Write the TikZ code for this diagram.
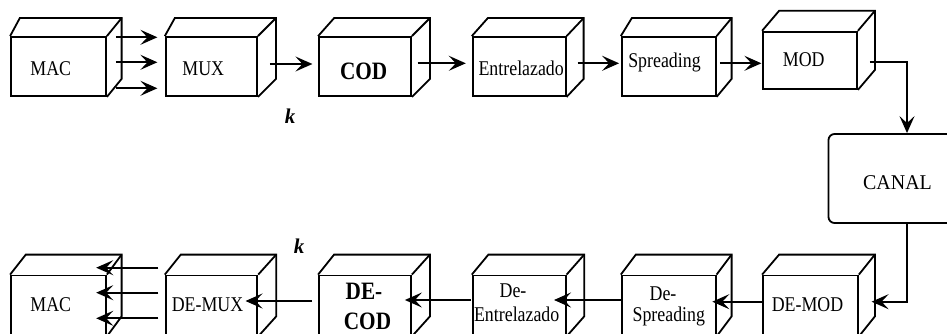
\documentclass[tikz,border=0pt]{standalone}
\usepackage{fontspec}
\setmainfont{Liberation Serif}
\newfontfamily\lblfont[FakeStretch=0.85]{Liberation Serif}
\newfontfamily\canalfont[FakeStretch=0.95]{Liberation Serif}
\usetikzlibrary{calc,arrows.meta}

\tikzset{
  edge/.style={line width=1.8pt, line join=miter},
  face/.style={edge, draw, inner sep=0pt, minimum height=59pt},
  lowface/.style={face, minimum height=60pt},
  arr/.style={edge, -{Stealth[length=17pt, width=15pt, inset=7pt]}},
  lbl/.style={inner sep=0pt, anchor=base, font=\lblfont\fontsize{21}{24}\selectfont},
  blbl/.style={inner sep=0pt, anchor=base, font=\lblfont\bfseries\fontsize{25}{28}\selectfont},
  klbl/.style={inner sep=0pt, anchor=base, font=\bfseries\itshape\fontsize{21}{24}\selectfont},
}

% top and right faces of a block: node, left depth, right depth, height of rise
\newcommand\blockfaces[4]{%
  \draw[edge] (#1.north west) -- ++(#2,-#4) -- ($(#1.north east)+(#3,-#4)$)
    -- ($(#1.south east)+(#3,-#4)$) -- (#1.south east);
  \draw[edge] (#1.north east) -- ++(#3,-#4);
}

\begin{document}
\begin{tikzpicture}[x=1pt, y=-1pt]
\useasboundingbox (0,0) rectangle (947,334);

% ---- transmitter chain ----
\node[face, minimum width=95pt]   (macA) at (58.5,66.5) {};
\node[face, minimum width=91.3pt] (mux)  at (211.35,66.5) {};
\node[face, minimum width=92pt]   (cod)  at (365,66.5) {};
\node[face, minimum width=93pt]   (entr) at (519.2,66.5) {};
\node[face, minimum width=94pt]   (spr)  at (668.7,66.5) {};
\node[face, minimum width=94pt, minimum height=57.3pt] (mod) at (810,60.35) {};
\blockfaces{macA}{9.7}{14.7}{18}
\blockfaces{mux}{10}{18}{18}
\blockfaces{cod}{16}{18}{18}
\blockfaces{entr}{16}{17}{18}
\blockfaces{spr}{11}{15}{18}
\blockfaces{mod}{17}{17}{20}

\node[lbl]  (tMacA) at (50.8,75.7) {MAC};
\node[lbl]  (tMux)  at (203.3,75.5) {MUX};
\node[blbl] (tCod)  at (363.7,79.5) {COD};
\node[lbl]  (tEntr) at (521.2,75.5) {Entrelazado};
\node[lbl]  (tSpr)  at (664.5,68) {Spreading};
\node[lbl]  (tMod)  at (803.7,67) {MOD};
\node[klbl] (kTop)  at (290,123.3) {k};

% ---- channel ----
\node[edge, draw, rounded corners=6pt, minimum width=137.5pt, minimum height=89pt,
      inner sep=0pt] (canal) at (897.25,178.5) {};
\node[inner sep=0pt, anchor=base, font=\canalfont\fontsize{21}{24}\selectfont] (tCanal) at (897.5,189.3) {CANAL};

% ---- receiver chain ----
\node[lowface, minimum width=95pt]   (macB)   at (58.5,305.5) {};
\node[lowface, minimum width=91.6pt] (demux)  at (211.5,305.5) {};
\node[lowface, minimum width=92pt]   (decod)  at (365,305.5) {};
\node[lowface, minimum width=93pt]   (deentr) at (519.2,305.5) {};
\node[lowface, minimum width=94pt]   (despr)  at (668.7,305.5) {};
\node[lowface, minimum width=95pt]   (demod)  at (810.5,305.5) {};
\blockfaces{macB}{15.7}{14.7}{20}
\blockfaces{demux}{16}{18}{20}
\blockfaces{decod}{16}{18}{20}
\blockfaces{deentr}{16.6}{17.6}{20}
\blockfaces{despr}{15}{15}{20}
\blockfaces{demod}{17}{16}{20}

\node[lbl]  (tMacB)    at (50.8,311.5) {MAC};
\node[lbl]  (tDemux)   at (207.5,311.5) {DE-MUX};
\node[blbl] (tDecodA)  at (364,299) {DE-};
\node[blbl] (tDecodB)  at (367.5,329) {COD};
\node[lbl]  (tDeentrA) at (513,297.5) {De-};
\node[lbl]  (tDeentrB) at (516.7,321) {Entrelazado};
\node[lbl]  (tDesprA)  at (663,300.5) {De-};
\node[lbl]  (tDesprB)  at (668.8,321) {Spreading};
\node[lbl]  (tDemod)   at (807.5,311) {DE-MOD};
\node[klbl] (kBot)     at (299,253) {k};

% ---- forward connectors ----
\foreach \dy in {-29.2,-4.2,21.8}
  \draw[arr, shorten >=7.4pt] ($(macA.east)+(9,\dy)$) coordinate (s) -- (s -| mux.west);
\draw[arr, shorten >=5.7pt] ($(mux.east)+(12,-2.5)$) coordinate (s) -- (s -| cod.west);
\draw[arr, shorten >=6pt]   ($(cod.east)+(5.7,-3.2)$) coordinate (s) -- (s -| entr.west);
\draw[arr, shorten >=1.7pt] ($(entr.east)+(11,-3.2)$) coordinate (s) -- (s -| spr.west);
\draw[arr, shorten >=0.7pt] ($(spr.east)+(3.3,-3.2)$) coordinate (s) -- (s -| mod.west);
\draw[arr] ($(mod.east)+(12,1.6)$) -| ([xshift=9.75pt]canal.north);

% ---- return connectors ----
\draw[arr] ([xshift=9.75pt]canal.south) |- ($(demod.east)+(12.7,-3.8)$);
\draw[arr, shorten >=-4.3pt] ($(demod.west)+(0,-3.8)$) coordinate (s) -- (s -| despr.east);
\draw[arr, shorten >=-12.6pt] ($(despr.west)+(0,-5.5)$) coordinate (s) -- (s -| deentr.east);
\draw[arr, shorten >=-7pt]   ($(deentr.west)+(-0.7,-5.5)$) coordinate (s) -- (s -| decod.east);
\draw[arr, shorten >=-12.7pt] ($(decod.west)+(-6,-4.5)$) coordinate (s) -- (s -| demux.east);
\foreach \dy in {-37.8,-12.8,12.8}
  \draw[arr, shorten >=-10.7pt] ($(demux.west)+(-6.4,\dy)$) coordinate (s) -- (s -| macB.east);
\end{tikzpicture}
\end{document}
